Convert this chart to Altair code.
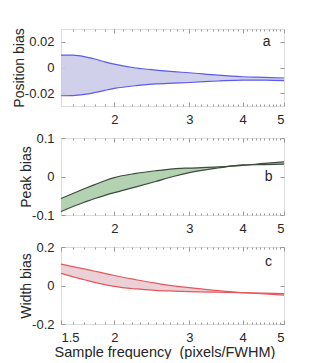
import altair as alt
import pandas as pd

x_vals = [1.5, 1.6, 1.7, 1.8, 1.9, 2.0, 2.25, 2.5, 2.75, 3.0, 3.5, 4.0, 4.5, 5.0]

pos_upper = [0.0097, 0.0096, 0.0085, 0.0066, 0.0044, 0.0026, -0.0004, -0.0020, -0.0032, -0.0041, -0.0060, -0.0072, -0.0077, -0.0082]
pos_lower = [-0.0220, -0.0219, -0.0210, -0.0195, -0.0178, -0.0163, -0.0141, -0.0128, -0.0122, -0.0117, -0.0105, -0.0098, -0.0099, -0.0102]

peak_upper = [-0.057, -0.044, -0.032, -0.021, -0.011, -0.003, 0.008, 0.015, 0.020, 0.022, 0.025, 0.029, 0.034, 0.038]
peak_lower = [-0.091, -0.078, -0.067, -0.057, -0.049, -0.042, -0.027, -0.013, 0.000, 0.010, 0.022, 0.030, 0.031, 0.032]

width_upper = [0.111, 0.098, 0.086, 0.074, 0.063, 0.052, 0.030, 0.012, -0.002, -0.011, -0.027, -0.037, -0.040, -0.042]
width_lower = [0.063, 0.045, 0.030, 0.016, 0.005, -0.005, -0.018, -0.025, -0.029, -0.032, -0.035, -0.037, -0.044, -0.050]

x_major_ab = [2, 3, 4, 5]
x_major_c = [1.5, 2, 3, 4, 5]
x_minor = [round(1.6 + 0.1 * i, 1) for i in range(34)]

panels = [
    dict(title="Position bias", upper=pos_upper, lower=pos_lower, dom=[-0.03, 0.03],
         yticks=[-0.02, 0, 0.02], fill="#cbcbe9", line="#5b5bee", label="a", lx=4.55, ly=0.02,
         xticks=x_major_ab, xtitle=None),
    dict(title="Peak bias", upper=peak_upper, lower=peak_lower, dom=[-0.1, 0.1],
         yticks=[-0.1, 0, 0.1], fill="#aacdaa", line="#3e4c3e", label="b", lx=4.6, ly=0.0,
         xticks=x_major_ab, xtitle=None),
    dict(title="Width bias", upper=width_upper, lower=width_lower, dom=[-0.2, 0.2],
         yticks=[-0.2, 0, 0.2], fill="#e9ccd0", line="#e8565c", label="c", lx=4.6, ly=0.12,
         xticks=x_major_c, xtitle="Sample frequency\u00a0\u00a0(pixels/FWHM)"),
]

FONT = "Liberation Sans"
TXT = "#262626"
GRID = "#999999"
W, H = 223, 77


def panel(p):
    df = pd.DataFrame({"x": x_vals, "upper": p["upper"], "lower": p["lower"]})
    xs = alt.Scale(type="log", domain=[1.5, 5], nice=False)
    ys = alt.Scale(domain=p["dom"], nice=False, zero=False)
    lbl = dict(labelFont=FONT, labelFontSize=13, labelColor=TXT, tickColor=GRID,
               domain=False, grid=False, minExtent=0)

    xaxis_kw = dict(values=p["xticks"], orient="bottom", offset=-4, tickSize=4,
                    labelPadding=7, labelExpr="'' + datum.value", **lbl)
    if p["xtitle"]:
        xaxis_kw.update(title=p["xtitle"], titleFont=FONT, titleFontSize=14.5,
                        titleFontWeight="normal", titleColor=TXT, titlePadding=1,
                        titleX=W / 2 - 8)
    else:
        xaxis_kw.update(title=None)
    x_main = alt.X("x:Q", scale=xs, axis=alt.Axis(**xaxis_kw))
    y_main = alt.Y("upper:Q", scale=ys,
                   axis=alt.Axis(values=p["yticks"], orient="left", offset=-4, tickSize=4,
                                 labelPadding=7, labelExpr="'' + datum.value",
                                 title=p["title"], titleFont=FONT, titleFontSize=14,
                                 titleFontWeight="normal", titleColor=TXT, titlePadding=-2, **lbl))
    area = alt.Chart(df).mark_area(color=p["fill"], opacity=0.9, interpolate="monotone").encode(
        x=x_main, y=y_main, y2="lower:Q")

    x_top = alt.X("x:Q", scale=xs,
                  axis=alt.Axis(values=p["xticks"], orient="top", offset=-4, tickSize=4,
                                labels=False, title=None, **lbl))
    y_right = alt.Y("upper:Q", scale=ys,
                    axis=alt.Axis(values=p["yticks"], orient="right", offset=-4, tickSize=4,
                                  labels=False, title=None, **lbl))
    line_up = alt.Chart(df).mark_line(color=p["line"], strokeWidth=1.2, interpolate="monotone").encode(
        x=x_top, y=y_right)

    x_minor_b = alt.X("x:Q", scale=xs,
                      axis=alt.Axis(values=x_minor, orient="bottom", offset=-2, tickSize=2,
                                    labels=False, title=None, **lbl))
    line_lo = alt.Chart(df).mark_line(color=p["line"], strokeWidth=1.2, interpolate="monotone").encode(
        x=x_minor_b, y=alt.Y("lower:Q", scale=ys, axis=None))

    x_minor_t = alt.X("x:Q", scale=xs,
                      axis=alt.Axis(values=x_minor, orient="top", offset=-2, tickSize=2,
                                    labels=False, title=None, **lbl))
    tdf = pd.DataFrame({"x": [p["lx"]], "y": [p["ly"]], "t": [p["label"]]})
    text = alt.Chart(tdf).mark_text(font=FONT, fontSize=14, color=TXT).encode(
        x=x_minor_t, y=alt.Y("y:Q", scale=ys, axis=None), text="t:N")

    return alt.layer(area, line_up, line_lo, text).resolve_axis(
        x="independent", y="independent").properties(width=W, height=H)


chart = alt.vconcat(*[panel(p) for p in panels], spacing=4).configure_view(
    stroke=GRID, strokeWidth=1).configure(padding={"left": 3, "top": 19, "right": 5, "bottom": 0})

chart.save("out.html", embed_options={"renderer": "svg", "actions": False})
